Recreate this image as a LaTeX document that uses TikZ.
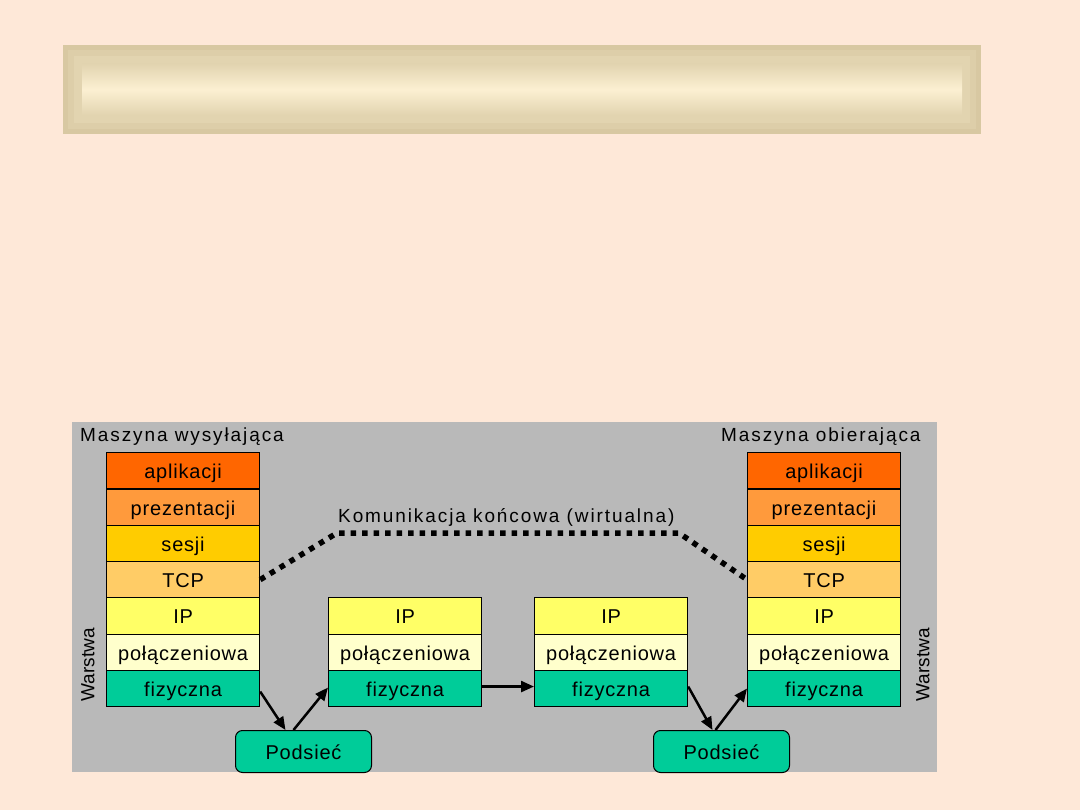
\documentclass[tikz,border=0pt]{standalone}
\usepackage{fontspec}
\setmainfont{Liberation Sans}
\newfontfamily\labfont[LetterSpace=4]{Liberation Sans}
\newfontfamily\hdrfont[LetterSpace=10]{Liberation Sans}
\usetikzlibrary{arrows.meta}
\definecolor{bgpeach}{HTML}{FEE8D8}
\definecolor{panelgray}{HTML}{B9B9B9}
\definecolor{cApl}{HTML}{FF6600}
\definecolor{cPre}{HTML}{FF9A3C}
\definecolor{cSes}{HTML}{FFCC00}
\definecolor{cTcp}{HTML}{FFCC66}
\definecolor{cIp}{HTML}{FFFF66}
\definecolor{cPol}{HTML}{FFFFCC}
\definecolor{cFiz}{HTML}{00CC99}
\definecolor{barA}{HTML}{D8C8A2}
\definecolor{barB}{HTML}{DDCEA9}
\definecolor{barC}{HTML}{E2D4B0}
\definecolor{barD}{HTML}{FCF0D2}
\tikzset{
  layer/.style={draw=black, line width=1.2pt, minimum width=153pt, minimum height=36.3pt,
    inner sep=0pt, anchor=north west, font=\labfont\fontsize{20}{20}\selectfont,
    text height=17pt, text depth=1pt},
  subnet/.style={draw=black, line width=1pt, fill=cFiz, rounded corners=7pt,
    minimum width=136pt, minimum height=42pt, inner sep=0pt, anchor=north west,
    font=\labfont\fontsize{20}{20}\selectfont, text height=17pt, text depth=1pt},
  hdr/.style={inner sep=0pt, font=\hdrfont\fontsize{19}{19}\selectfont},
  side/.style={inner sep=0pt, rotate=90, font=\fontsize{19}{19}\selectfont},
  link/.style={line width=2.5pt, -{Triangle[length=13pt,width=11pt]}},
  virt/.style={line width=5.5pt, dash pattern=on 5.5pt off 6pt},
}
\begin{document}
\begin{tikzpicture}[x=1pt,y=-1pt]
\useasboundingbox (0,0) rectangle (1080,810);
\fill[bgpeach] (0,0) rectangle (1080,810);
% title bar
\fill[barA] (63,45) rectangle (981,134);
\fill[barB] (68,50) rectangle (976,129);
\fill[barC] (74,56) rectangle (970,123);
\shade[top color=barC, bottom color=barC, middle color=barD] (82,64) rectangle (962,115);
% panel
\fill[panelgray] (72,422) rectangle (937,772);
% headers
\node[hdr, anchor=base west] (hL) at (80,442) {Maszyna wysyłająca};
\node[hdr, anchor=base west] (hR) at (721,442) {Maszyna obierająca};
\node[side] (wL) at (88,665) {Warstwa};
\node[side] (wR) at (923,665) {Warstwa};
% left stack
\node[layer, fill=cApl] (Lapl) at (106,452) {aplikacji};
\node[layer, fill=cPre] (Lpre) at (106,488.3) {prezentacji};
\node[layer, fill=cSes] (Lses) at (106,524.6) {sesji};
\node[layer, fill=cTcp] (Ltcp) at (106,560.9) {TCP};
\node[layer, fill=cIp] (Lip) at (106,597.2) {IP};
\node[layer, fill=cPol] (Lpol) at (106,633.5) {połączeniowa};
\node[layer, fill=cFiz] (Lfiz) at (106,669.8) {fizyczna};
% right stack
\node[layer, fill=cApl] (Rapl) at (747,452) {aplikacji};
\node[layer, fill=cPre] (Rpre) at (747,488.3) {prezentacji};
\node[layer, fill=cSes] (Rses) at (747,524.6) {sesji};
\node[layer, fill=cTcp] (Rtcp) at (747,560.9) {TCP};
\node[layer, fill=cIp] (Rip) at (747,597.2) {IP};
\node[layer, fill=cPol] (Rpol) at (747,633.5) {połączeniowa};
\node[layer, fill=cFiz] (Rfiz) at (747,669.8) {fizyczna};
% middle routers
\node[layer, fill=cIp] (Aip) at (328,597.2) {IP};
\node[layer, fill=cPol] (Apol) at (328,633.5) {połączeniowa};
\node[layer, fill=cFiz] (Afiz) at (328,669.8) {fizyczna};
\node[layer, fill=cIp] (Bip) at (534,597.2) {IP};
\node[layer, fill=cPol] (Bpol) at (534,633.5) {połączeniowa};
\node[layer, fill=cFiz] (Bfiz) at (534,669.8) {fizyczna};
% subnets
\node[subnet] (P1) at (235,730) {Podsieć};
\node[subnet] (P2) at (653,730) {Podsieć};
% virtual communication
\coordinate (d1) at (337,533);
\coordinate (d2) at (679,533);
\draw[virt] (Ltcp.east) -- (d1) -- (d2) -- (Rtcp.west);
\node[hdr, anchor=base west] (kom) at (338,522) {Komunikacja końcowa (wirtualna)};
% links
\draw[link] ([yshift=-3pt]Lfiz.east) -- ([xshift=-18pt]P1.north);
\draw[link] ([xshift=-10pt]P1.north) -- ([yshift=1pt]Afiz.west);
\draw[link] ([yshift=2pt]Afiz.east) -- ([yshift=2pt]Bfiz.west);
\draw[link] ([yshift=2pt]Bfiz.east) -- ([xshift=-9pt]P2.north);
\draw[link] ([xshift=-6pt]P2.north) -- (Rfiz.west);
\end{tikzpicture}
\end{document}
